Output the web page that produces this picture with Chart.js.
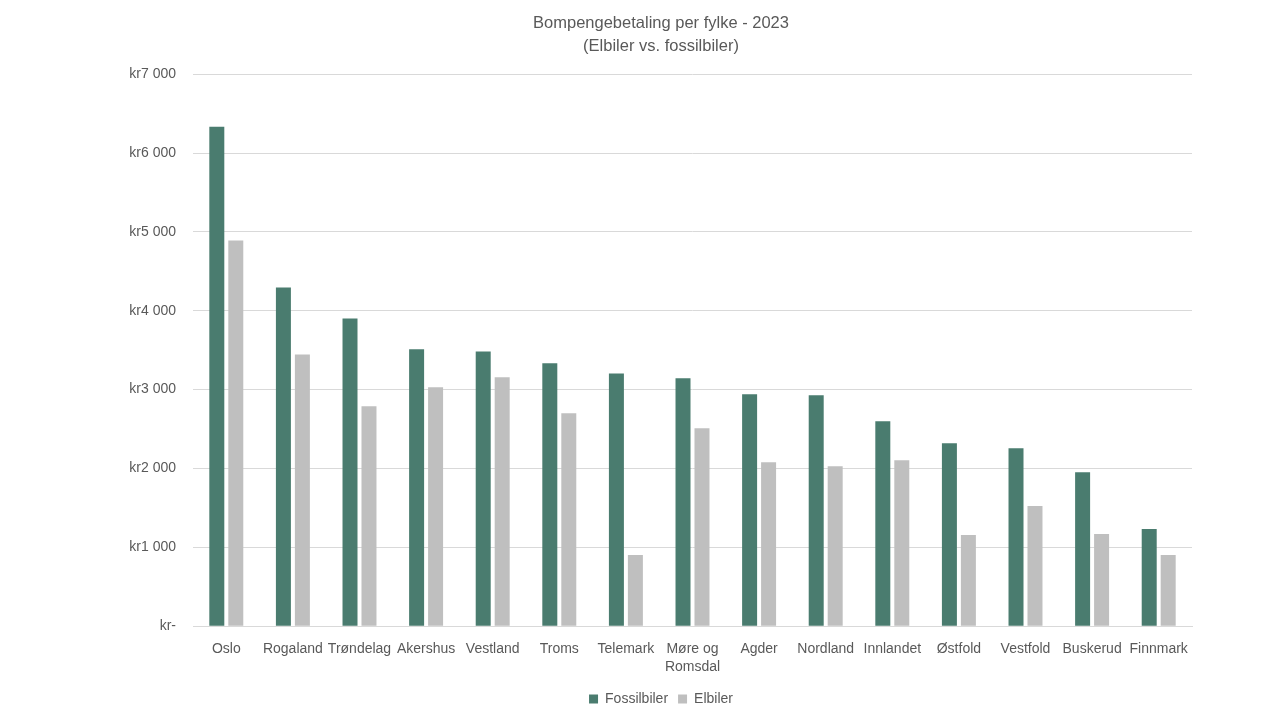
<!DOCTYPE html>
<html>
<head>
<meta charset="utf-8">
<script src="https://cdn.jsdelivr.net/npm/chart.js@4/dist/chart.umd.min.js"></script>
<style>
    html, body { margin: 0; padding: 0; background: #ffffff; }
    #wrap { width: 1280px; height: 720px; }
</style>
</head>
<body>
<div id="wrap"><canvas id="chart"></canvas></div>
<script>
const fylker = ['Oslo', 'Rogaland', 'Trøndelag', 'Akershus', 'Vestland', 'Troms', 'Telemark',
    ['Møre og', 'Romsdal'], 'Agder', 'Nordland', 'Innlandet', 'Østfold', 'Vestfold', 'Buskerud', 'Finnmark']
const fossilbiler = [6333, 4295, 3903, 3511, 3485, 3333, 3206, 3143, 2941, 2928, 2599, 2320, 2257, 1953, 1232]
const elbiler = [4890, 3447, 2789, 3030, 3156, 2700, 904, 2510, 2080, 2029, 2105, 1156, 1523, 1168, 904]
const yTickLabels = ['kr-', 'kr1 000', 'kr2 000', 'kr3 000', 'kr4 000', 'kr5 000', 'kr6 000', 'kr7 000']

const textColor = '#595959'
const gridColor = '#d9d9d9'
const fontFamily = '"Liberation Sans", Arial, sans-serif'

const ctx = document.getElementById('chart').getContext('2d')
new Chart(ctx, {
    type: 'bar',
    data: {
        labels: fylker,
        datasets: [
            {
                label: 'Fossilbiler',
                data: fossilbiler,
                backgroundColor: '#4a7c6f'
            },
            {
                label: 'Elbiler',
                data: elbiler,
                backgroundColor: '#bfbfbf'
            }
        ]
    },
    options: {
        responsive: true,
        maintainAspectRatio: false,
        animation: false,
        categoryPercentage: 0.57,
        barPercentage: 0.79,
        // left/right padding chosen so title and legend centre near x=661
        layout: {
            padding: { left: 130, right: 88, top: 8, bottom: 4 }
        },
        plugins: {
            title: {
                display: true,
                text: ['Bompengebetaling per fylke - 2023', '(Elbiler vs. fossilbiler)'],
                color: textColor,
                font: { family: fontFamily, size: 16.5, weight: 'normal', lineHeight: 1.4 },
                padding: { top: 4, bottom: 16 }
            },
            legend: {
                position: 'bottom',
                labels: {
                    color: textColor,
                    font: { family: fontFamily, size: 14 },
                    boxWidth: 9,
                    boxHeight: 9,
                    padding: 10
                }
            },
            tooltip: { enabled: false }
        },
        scales: {
            x: {
                grid: { display: false },
                border: { display: true, color: gridColor },
                ticks: {
                    color: textColor,
                    font: { family: fontFamily, size: 14, lineHeight: 1.35 },
                    maxRotation: 0,
                    autoSkip: false,
                    padding: 5
                }
            },
            y: {
                min: 0,
                max: 7000,
                afterFit: scale => { scale.width = 63 },
                grid: { color: gridColor, drawTicks: false },
                border: { display: false },
                ticks: {
                    stepSize: 1000,
                    color: textColor,
                    font: { family: fontFamily, size: 14 },
                    padding: 17,
                    callback: (value, index) => yTickLabels[index]
                }
            }
        }
    }
})
</script>
</body>
</html>
